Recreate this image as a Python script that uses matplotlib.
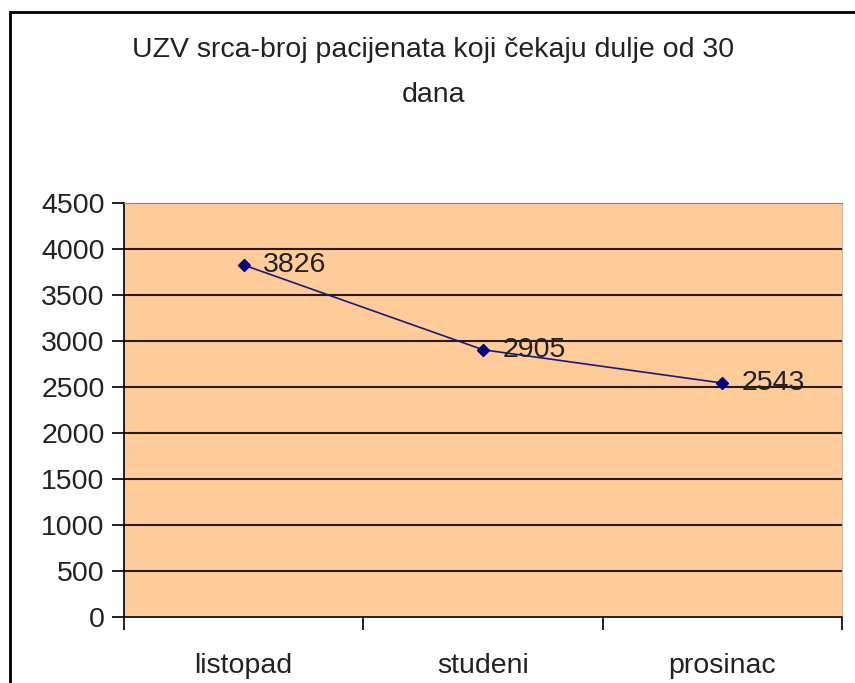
import numpy as np
import matplotlib.pyplot as plt
from matplotlib.patches import Rectangle

months = ['listopad', 'studeni', 'prosinac']
patients = [3826, 2905, 2543]
yticks = [0, 500, 1000, 1500, 2000, 2500, 3000, 3500, 4000, 4500]

plt.rcParams['font.family'] = ['Liberation Sans', 'DejaVu Sans']
fs = 20.5

W, H = 855, 683
fig = plt.figure(figsize=(W / 100, H / 100), dpi=100)
fig.patch.set_facecolor('white')

# chart border (cut off at right and bottom like the screenshot)
fig.patches.append(Rectangle((10 / W, -0.1), 1.2, 1 - 12 / H + 0.1,
                             transform=fig.transFigure, fill=False,
                             edgecolor='black', linewidth=2))

ax = fig.add_axes([124 / W, 1 - 617 / H, (842 - 124) / W, (617 - 203) / H])
ax.set_facecolor('#FFCC99')

x = np.arange(len(months))
ax.plot(x, patients, color='#1a1a7a', linewidth=1.2, marker='D',
        markersize=6.5, markerfacecolor='#000080', markeredgecolor='#000080')
for xi, v in zip(x, patients):
    ax.text(xi + 0.08, v, str(v), fontsize=fs, color='#222222',
            va='center', ha='left')

ax.set_xlim(-0.5, len(months) - 0.5)
ax.set_ylim(0, 4500)
ax.set_yticks(yticks)
ax.set_yticklabels([str(t) for t in yticks], fontsize=fs, color='#222222')
for t in yticks[1:-1]:
    ax.axhline(t, color='#2a1a10', linewidth=1.5, zorder=1)

ax.set_xticks(x)
ax.set_xticklabels(months, fontsize=fs, color='#222222')
ax.tick_params(axis='x', length=0, pad=26)
ax.set_xticks(np.arange(len(months) + 1) - 0.5, minor=True)
ax.tick_params(axis='x', which='minor', length=9, width=1.2, direction='out')
ax.tick_params(axis='y', length=9, width=1.2, direction='out', pad=5)

ax.spines['left'].set_color('black')
ax.spines['left'].set_linewidth(1.2)
ax.spines['bottom'].set_color('black')
ax.spines['bottom'].set_linewidth(1.2)
ax.spines['top'].set_color('#888888')
ax.spines['right'].set_color('#bbbbbb')

fig.text(433 / W, 1 - 50 / H, 'UZV srca-broj pacijenata koji čekaju dulje od 30',
         ha='center', va='center', fontsize=fs, color='#222222')
fig.text(433 / W, 1 - 95 / H, 'dana', ha='center', va='center',
         fontsize=fs, color='#222222')

fig.savefig('out.png', dpi=100)
